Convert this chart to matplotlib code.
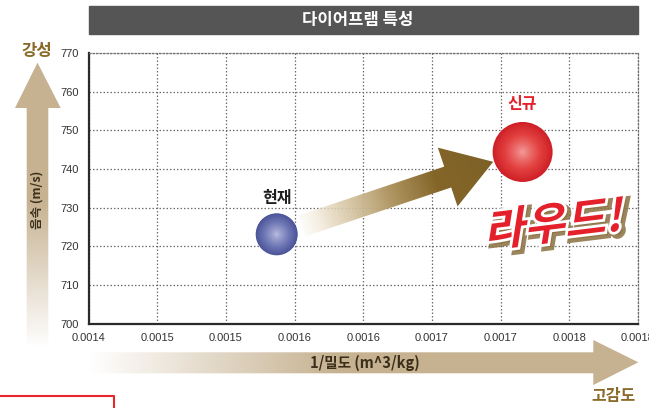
import numpy as np
import matplotlib
matplotlib.use("Agg")
import matplotlib.pyplot as plt
import matplotlib.patheffects as pe
from matplotlib.colors import LinearSegmentedColormap, to_rgb
from matplotlib.font_manager import FontProperties
from matplotlib.patches import Polygon, Rectangle, PathPatch
from matplotlib.lines import Line2D
from matplotlib.textpath import TextPath
from matplotlib.transforms import Affine2D

KR = ['Noto Sans CJK KR', 'DejaVu Sans']
NUM = ['Liberation Sans Narrow', 'Liberation Sans', 'DejaVu Sans']
plt.rcParams['font.family'] = KR

# ───────────────────────── data ───────────────────────── #

title = '다이어프램 특성'
x_title = '1/밀도 (m^3/kg)'
y_title = '음속 (m/s)'
x_ticks = [0.0014, 0.00145, 0.0015, 0.00155, 0.0016, 0.00165, 0.0017, 0.00175, 0.0018]
x_tick_labels = ['0.0014', '0.0015', '0.0015', '0.0016', '0.0016',
                 '0.0017', '0.0017', '0.0018', '0.0018']
y_ticks = [700, 710, 720, 730, 740, 750, 760, 770]

names = ['현재', '신규']
inv_density = [0.001537, 0.001716]
sound_speed = [723.1, 744.4]

# ───────────────────────── style ───────────────────────── #

W, H = 649, 408
TAN = '#c6b190'
GOLD = '#8a6a28'
RED = '#e4202a'
ball_size = [914, 1866]
ball_edge = ['#4a5498', '#cf2027']
ball_body = ['#6f78b6', '#e2403f']
ball_light = ['#bfc3e3', '#f5a3a2']
name_color = ['#1e1e1e', RED]
name_offset = [26, 34.5]


def gradient_fill(axis, verts, t, cmap, extent, zorder):
    poly = Polygon(verts, closed=True, facecolor='none', edgecolor='none')
    axis.add_patch(poly)
    im = axis.imshow(t, cmap=cmap, vmin=0, vmax=1, extent=extent, origin='lower',
                     aspect='auto', interpolation='bilinear', zorder=zorder)
    im.set_clip_path(poly)
    return im


def draw_ball(ax, x, y, size, edge, body, light, n=40):
    e, b, l = (np.array(to_rgb(c)) for c in (edge, body, light))
    for k in range(n):
        r = 1 - k / n
        if r > 0.6:
            w = (r - 0.6) / 0.4
            col = b * (1 - w) + e * w
        else:
            w = (r / 0.6) ** 0.8
            col = l * (1 - w) + b * w
        ax.scatter([x], [y], s=size * r * r, color=col, edgecolors='none',
                   zorder=4 + k * 0.01)


fig = plt.figure(figsize=(W / 100, H / 100), dpi=100)
fig.patch.set_facecolor('white')

# main plot area
ax = fig.add_axes([88.5 / W, 1 - 323.6 / H, (638 - 88.5) / W, (323.6 - 53) / H])
ax.set_xlim(0.0014, 0.0018)
ax.set_ylim(700, 770)
ax.set_xticks(x_ticks)
ax.set_xticklabels(x_tick_labels)
ax.set_yticks(y_ticks)
ax.tick_params(axis='both', length=0, labelsize=8, labelcolor='#333333')
ax.tick_params(axis='x', pad=6.5)
ax.tick_params(axis='y', pad=7)
for lbl in ax.get_xticklabels() + ax.get_yticklabels():
    lbl.set_family(NUM)
ax.grid(True, color='#6e6e6e', lw=0.9, ls=(0, (1.2, 1.6)))
for side in ('left', 'bottom'):
    ax.spines[side].set_color('#2a2a2a')
    ax.spines[side].set_linewidth(1.6)
for side in ('top', 'right'):
    ax.spines[side].set_color('#6e6e6e')
    ax.spines[side].set_linewidth(0.9)
    ax.spines[side].set_linestyle((0, (1.2, 1.6)))

# big arrow from the current point to the new one
pts = ax.transData.transform(np.column_stack([inv_density, sound_speed]))
u = pts[1] - pts[0]
u = u / np.hypot(*u)
nrm = np.array([-u[1], u[0]])
tail = pts[0] + 27 * u
tip = pts[1] - 31 * u
base = tip - 48 * u
hw, hh = 11, 31
arrow = np.array([tail + hw * nrm, base + hw * nrm, base + hh * nrm, tip,
                  base - hh * nrm, base - hw * nrm, tail - hw * nrm])
x0, y0 = np.floor(arrow.min(axis=0)) - 2
x1, y1 = np.ceil(arrow.max(axis=0)) + 2
gx, gy = np.meshgrid(np.arange(x0, x1) + 0.5, np.arange(y0, y1) + 0.5)
t = ((gx - tail[0]) * u[0] + (gy - tail[1]) * u[1]) / np.hypot(*(tip - tail))
arrow_cmap = LinearSegmentedColormap.from_list('push', [
    (0.0, (0.96, 0.93, 0.87, 0.25)),
    (0.15, (0.90, 0.85, 0.75, 0.85)),
    (0.45, (0.70, 0.60, 0.40, 1.0)),
    (0.70, (0.52, 0.40, 0.16, 1.0)),
    (1.0, (0.49, 0.38, 0.15, 1.0)),
])
inv = ax.transData.inverted()
arrow_d = inv.transform(arrow)
(dx0, dy0), (dx1, dy1) = inv.transform([[x0, y0], [x1, y1]])
gradient_fill(ax, arrow_d, np.clip(t, 0, 1), arrow_cmap, (dx0, dx1, dy0, dy1), 3)
ax.set_xlim(0.0014, 0.0018)
ax.set_ylim(700, 770)

# the two design points
for i in range(len(names)):
    draw_ball(ax, inv_density[i], sound_speed[i], ball_size[i],
              ball_edge[i], ball_body[i], ball_light[i])
    ax.annotate(names[i], (inv_density[i], sound_speed[i]),
                xytext=(0, name_offset[i]), textcoords='offset points',
                ha='center', va='center', fontsize=11.5, fontweight='bold',
                color=name_color[i], zorder=6)

# decoration layer in pixel coordinates
ov = fig.add_axes([0, 0, 1, 1], zorder=3)
ov.set_xlim(0, W)
ov.set_ylim(0, H)
ov.axis('off')

# title bar
ov.add_patch(Rectangle((88.5, H - 34), 549.5, 28, color='#555555'))
ov.text(358, H - 20, title, color='white', fontsize=12, fontweight='bold',
        ha='center', va='center')

px, py = np.meshgrid(np.arange(W) + 0.5, np.arange(H) + 0.5)
fade = LinearSegmentedColormap.from_list('fade', ['#ffffff', TAN])

# vertical arrow (speed of sound)
v_arrow = [(26.7, H - 345), (26.7, H - 108), (15, H - 108), (37.5, H - 62.7),
           (60.7, H - 108), (48.3, H - 108), (48.3, H - 345)]
gradient_fill(ov, v_arrow, np.clip((py - 60) / 150, 0, 1), fade, (0, W, 0, H), 1)
ov.text(37.5, H - 200, y_title, rotation=90, color='#3b2f1c', fontsize=9,
        fontweight='bold', ha='center', va='center')
ov.text(36.5, H - 51, '강성', color=GOLD, fontsize=12, fontweight='bold',
        ha='center', va='center')

# horizontal arrow (inverse density)
h_arrow = [(90, H - 352.3), (593.3, H - 352.3), (593.3, H - 340), (638.3, H - 362.3),
           (593.3, H - 385), (593.3, H - 373.3), (90, H - 373.3)]
gradient_fill(ov, h_arrow, np.clip((px - 90) / 250, 0, 1), fade, (0, W, 0, H), 1)
ov.text(365, H - 363, x_title, color='#3b2f1c', fontsize=10.5, fontweight='bold',
        ha='center', va='center')
ov.text(613, H - 396, '고감도', color=GOLD, fontsize=11.5, fontweight='bold',
        ha='center', va='center')

# red frame edge at the bottom left
ov.add_line(Line2D([0, 114.3, 114.3], [H - 396, H - 396, -2], color='#e8262b', lw=1.5))

# "라우드!" slanted headline
fp = FontProperties(family='Noto Sans CJK KR', weight='black')
tp = TextPath((0, 0), '라우드!', size=40, prop=fp)
path = Affine2D().skew_deg(16, 0).rotate_deg(7).transform_path(tp)
ext = path.get_extents()
scale = 134 / ext.width
path = (Affine2D()
        .translate(-ext.x0 - ext.width / 2, -ext.y0 - ext.height / 2)
        .scale(scale)
        .translate(556, H - 222)
        .transform_path(path))
ov.add_patch(PathPatch(path, facecolor=RED, edgecolor='none', zorder=5, path_effects=[
    pe.SimplePatchShadow(offset=(2.5, -2.5), shadow_rgbFace='#8a7040', alpha=0.85,
                         linewidth=5, foreground='#8a7040'),
    pe.Stroke(linewidth=4, foreground='white'),
    pe.Normal(),
]))

fig.savefig('out.png', dpi=100)
